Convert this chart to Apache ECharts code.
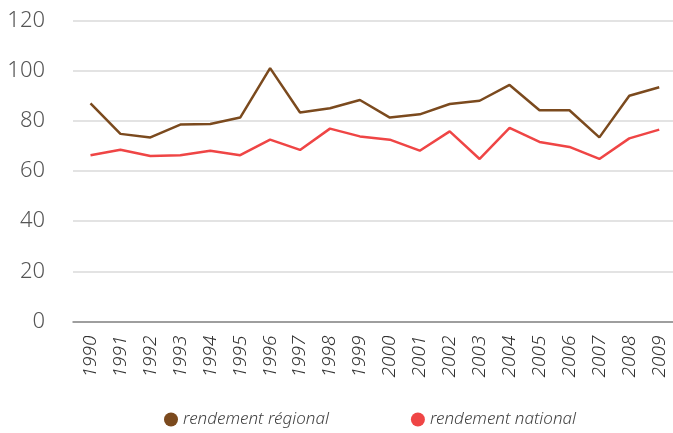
<!DOCTYPE html>
<html>
<head>
<meta charset="utf-8">
<script src="https://cdn.jsdelivr.net/npm/echarts@6/dist/echarts.min.js"></script>
<style>
  html, body { margin: 0; padding: 0; background: #fff; }
  #main { width: 673px; height: 433px; }
</style>
</head>
<body>
<div id="main"></div>
<script>
const years = [1990, 1991, 1992, 1993, 1994, 1995, 1996, 1997, 1998, 1999,
  2000, 2001, 2002, 2003, 2004, 2005, 2006, 2007, 2008, 2009]
// rendement régional
const regional = [87.0, 74.8, 73.4, 78.5, 78.7, 81.3, 101.0, 83.3, 85.0, 88.3,
  81.3, 82.6, 86.7, 88.0, 94.3, 84.2, 84.2, 73.4, 90.0, 93.4]
// rendement national
const national = [66.3, 68.5, 66.0, 66.3, 68.1, 66.3, 72.5, 68.4, 76.9, 73.8,
  72.5, 68.1, 75.8, 64.8, 77.2, 71.6, 69.6, 64.8, 73.0, 76.5]
const yTicks = [0, 20, 40, 60, 80, 100, 120]

const font = 'Noto Sans'
const chart = echarts.init(document.getElementById('main'))

const pairs = list => years.map((y, i) => [y, list[i]])

chart.setOption({
  animation: false,
  legend: {
    left: 159,
    top: 406,
    itemWidth: 14,
    itemHeight: 14,
    itemGap: 82,
    icon: 'circle',
    textStyle: {
      fontFamily: font,
      fontStyle: 'italic',
      fontWeight: 300,
      fontSize: 17,
      color: '#444',
      padding: [0, 0, 0, 0]
    },
    data: ['rendement régional', 'rendement national']
  },
  grid: {
    left: 73,
    right: 0,
    top: 20.5,
    bottom: 111.5
  },
  xAxis: {
    type: 'value',
    min: 1989.415,
    max: 2009.46,
    splitLine: { show: false },
    axisTick: { show: false },
    axisLine: { show: true, onZero: true, lineStyle: { color: '#888', width: 1.5 } },
    axisLabel: {
      customValues: years,
      formatter: v => String(v),
      rotate: 90,
      margin: 14,
      fontFamily: font,
      fontStyle: 'italic',
      fontWeight: 300,
      fontSize: 19,
      color: '#333'
    }
  },
  yAxis: {
    type: 'value',
    min: yTicks[0],
    max: yTicks[yTicks.length - 1],
    interval: 20,
    axisLine: { show: false },
    axisTick: { show: false },
    splitLine: { lineStyle: { color: '#dadada', width: 1.5 } },
    axisLabel: {
      margin: 28,
      fontFamily: font,
      fontWeight: 300,
      fontSize: 22,
      color: '#555'
    }
  },
  series: [
    {
      name: 'rendement régional',
      type: 'line',
      data: pairs(regional),
      symbol: 'none',
      color: '#7b4a1e',
      lineStyle: { width: 2.5, color: '#7b4a1e' }
    },
    {
      name: 'rendement national',
      type: 'line',
      data: pairs(national),
      symbol: 'none',
      color: '#ef4545',
      lineStyle: { width: 2.5, color: '#ef4545' }
    }
  ]
})
</script>
</body>
</html>
